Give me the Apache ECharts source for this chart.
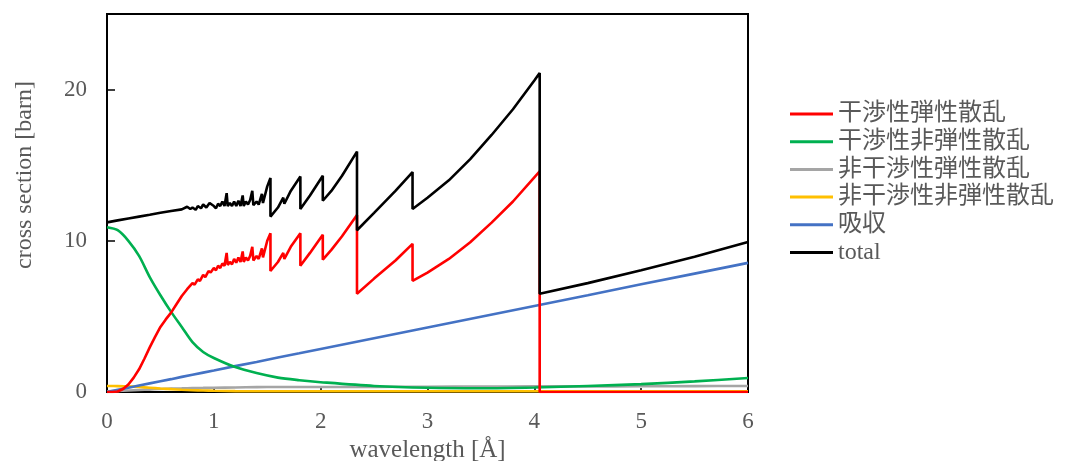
<!DOCTYPE html>
<html>
<head>
<meta charset="utf-8">
<script src="https://cdn.jsdelivr.net/npm/echarts@6/dist/echarts.min.js"></script>
<style>
  html, body { margin: 0; padding: 0; background: #fff; }
  #main { width: 1065px; height: 461px; }
</style>
</head>
<body>
<div id="main"></div>
<script>
// smooth components share one wavelength grid
var smoothX = [0, 0.1, 0.2, 0.3, 0.4, 0.5, 0.6, 0.7, 0.8, 0.9, 1.0, 1.2, 1.4, 1.6, 1.8, 2.0, 2.5, 3.0, 3.5, 4.0, 4.5, 5.0, 5.5, 6.0];
var cohInelastic = [10.9, 10.7, 10.0, 9.0, 7.6, 6.4, 5.3, 4.3, 3.3, 2.65, 2.25, 1.65, 1.25, 0.95, 0.78, 0.65, 0.4, 0.28, 0.25, 0.3, 0.4, 0.52, 0.7, 0.93];
var incElastic = [0.05, 0.07, 0.1, 0.13, 0.16, 0.2, 0.22, 0.24, 0.26, 0.27, 0.28, 0.3, 0.32, 0.33, 0.33, 0.33, 0.34, 0.35, 0.36, 0.37, 0.37, 0.38, 0.39, 0.4];
var incInelastic = [0.4, 0.39, 0.37, 0.33, 0.28, 0.23, 0.19, 0.15, 0.12, 0.1, 0.08, 0.06, 0.05, 0.05, 0.05, 0.05, 0.05, 0.05, 0.05, 0.05, 0.05, 0.05, 0.05, 0.05];
var absorption = [0, 0.14, 0.28, 0.43, 0.57, 0.71, 0.85, 1.0, 1.14, 1.28, 1.42, 1.71, 1.99, 2.28, 2.56, 2.85, 3.56, 4.27, 4.98, 5.69, 6.4, 7.12, 7.83, 8.54];

// coherent elastic (Bragg edges)
var redX = [0, 0.05, 0.1, 0.15, 0.2, 0.25, 0.3, 0.35, 0.4, 0.45, 0.5, 0.55, 0.6, 0.65, 0.7, 0.75, 0.8, 0.82, 0.85, 0.87, 0.9, 0.92, 0.95, 0.97,
  1.0, 1.02, 1.04, 1.06, 1.08, 1.1, 1.12, 1.13, 1.15, 1.17, 1.19, 1.21, 1.23, 1.25, 1.27, 1.28,
  1.3, 1.32, 1.34, 1.36, 1.37, 1.4, 1.42, 1.45, 1.46, 1.5, 1.53, 1.53, 1.6, 1.65, 1.66, 1.72,
  1.81, 1.81, 1.9, 2.02, 2.02, 2.1, 2.2, 2.34, 2.34, 2.5, 2.7, 2.86, 2.86,
  3.0, 3.2, 3.4, 3.6, 3.8, 4.0, 4.05, 4.05, 6.0];
var cohElastic = [0, 0, 0.03, 0.2, 0.5, 0.95, 1.5, 2.2, 2.95, 3.65, 4.3, 4.8, 5.25, 5.8, 6.35, 6.8, 7.2, 7.1, 7.45, 7.35, 7.75, 7.6, 8.0, 7.9,
  8.2, 8.05, 8.35, 8.2, 8.5, 8.35, 9.2, 8.4, 8.6, 8.45, 8.8, 8.55, 8.9, 8.6, 9.3, 8.6,
  8.9, 8.7, 9.0, 9.6, 8.7, 9.0, 8.8, 9.5, 8.9, 10.0, 10.5, 8.0, 8.6, 9.2, 8.8, 9.6,
  10.5, 8.35, 9.2, 10.4, 8.75, 9.4, 10.3, 11.7, 6.5, 7.5, 8.7, 9.8, 7.35,
  7.9, 8.8, 9.9, 11.2, 12.6, 14.2, 14.6, 0, 0];

// total
var totalX = [0, 0.1, 0.2, 0.3, 0.4, 0.5, 0.6, 0.7, 0.75, 0.78, 0.8, 0.83, 0.85, 0.88, 0.9, 0.93, 0.96,
  1.0, 1.02, 1.04, 1.06, 1.08, 1.1, 1.12, 1.13, 1.15, 1.17, 1.19, 1.21, 1.23, 1.25, 1.27, 1.28,
  1.3, 1.32, 1.34, 1.36, 1.37, 1.4, 1.42, 1.45, 1.46, 1.5, 1.53, 1.53, 1.6, 1.65, 1.66, 1.72,
  1.81, 1.81, 1.9, 2.02, 2.02, 2.1, 2.2, 2.34, 2.34, 2.5, 2.7, 2.86, 2.86,
  3.0, 3.2, 3.4, 3.6, 3.8, 4.0, 4.05, 4.05, 4.5, 5.0, 5.5, 6.0];
var total = [11.22, 11.35, 11.48, 11.6, 11.72, 11.85, 11.97, 12.08, 12.25, 12.1, 12.2, 12.05, 12.3, 12.15, 12.4, 12.2, 12.5,
  12.3, 12.15, 12.45, 12.3, 12.6, 12.3, 13.15, 12.3, 12.5, 12.3, 12.6, 12.3, 12.65, 12.3, 13.0, 12.3,
  12.6, 12.4, 12.7, 13.3, 12.35, 12.6, 12.4, 13.1, 12.5, 13.6, 14.15, 11.6, 12.2, 12.85, 12.45, 13.3,
  14.25, 12.1, 13.0, 14.3, 12.65, 13.3, 14.3, 15.9, 10.7, 11.85, 13.3, 14.55, 12.1,
  12.85, 14.0, 15.4, 17.0, 18.7, 20.6, 21.1, 6.5, 7.2, 8.05, 8.95, 9.92];

var xTicks = [0, 1, 2, 3, 4, 5, 6];
var yTicks = [0, 10, 20];

function pairs(xs, ys) {
  return xs.map(function (x, i) { return [x, ys[i]]; });
}

var serif = '"Liberation Serif", "Times New Roman", serif';
var labelGray = '#595959';

var myChart = echarts.init(document.getElementById('main'), null, { renderer: 'canvas' });

function line(name, color, data, smooth) {
  return {
    name: name,
    type: 'line',
    data: data,
    showSymbol: false,
    symbol: 'none',
    smooth: smooth ? 0.3 : false,
    lineStyle: { color: color, width: 2.6 },
    itemStyle: { color: color },
    emphasis: { disabled: true }
  };
}

var option = {
  animation: false,
  grid: {
    left: 107, right: 317, top: 14, bottom: 69,
    outerBoundsMode: 'none',
    show: true, borderColor: '#000', borderWidth: 2
  },
  graphic: [{
    type: 'text',
    x: 25,
    y: 175,
    rotation: Math.PI / 2,
    style: {
      text: 'cross section [barn]',
      fontFamily: serif,
      fontSize: 24,
      fill: labelGray,
      align: 'center',
      verticalAlign: 'middle'
    }
  }],
  legend: {
    orient: 'vertical',
    left: 785,
    top: 97,
    icon: 'rect',
    itemWidth: 43,
    itemHeight: 3,
    itemGap: 3.7,
    textStyle: {
      fontFamily: serif + ', "Noto Sans CJK JP"',
      fontSize: 24,
      lineHeight: 24,
      color: labelGray
    },
    data: ['干渉性弾性散乱', '干渉性非弾性散乱', '非干渉性弾性散乱', '非干渉性非弾性散乱', '吸収', 'total']
  },
  xAxis: {
    type: 'value',
    min: 0, max: 6, interval: 1,
    name: 'wavelength [Å]',
    nameLocation: 'middle',
    nameGap: 42,
    nameTextStyle: { fontFamily: serif, fontSize: 25, color: labelGray },
    axisLine: { lineStyle: { color: '#000', width: 2 } },
    axisTick: { show: true, inside: true, length: 4, lineStyle: { color: '#000', width: 1.5 } },
    axisLabel: {
      margin: 18, fontFamily: serif, fontSize: 23, color: labelGray,
      formatter: function (v) { return xTicks.indexOf(v) >= 0 ? String(v) : ''; }
    },
    splitLine: { show: false }
  },
  yAxis: {
    type: 'value',
    min: 0, max: 25, interval: 10,
    axisLine: { lineStyle: { color: '#000', width: 2 } },
    axisTick: { show: true, inside: true, length: 8, lineStyle: { color: '#000', width: 1.5 } },
    axisLabel: {
      margin: 20, fontFamily: serif, fontSize: 23, color: labelGray,
      formatter: function (v) { return yTicks.indexOf(v) >= 0 ? String(v) : ''; }
    },
    splitLine: { show: false }
  },
  series: [
    line('非干渉性弾性散乱', '#A5A5A5', pairs(smoothX, incElastic), true),
    line('非干渉性非弾性散乱', '#FFC000', pairs(smoothX, incInelastic), true),
    line('吸収', '#4472C4', pairs(smoothX, absorption), false),
    line('干渉性非弾性散乱', '#00B050', pairs(smoothX, cohInelastic), true),
    line('干渉性弾性散乱', '#FF0000', pairs(redX, cohElastic), false),
    line('total', '#000000', pairs(totalX, total), false)
  ]
};

myChart.setOption(option);
window.addEventListener('resize', myChart.resize);
</script>
</body>
</html>
